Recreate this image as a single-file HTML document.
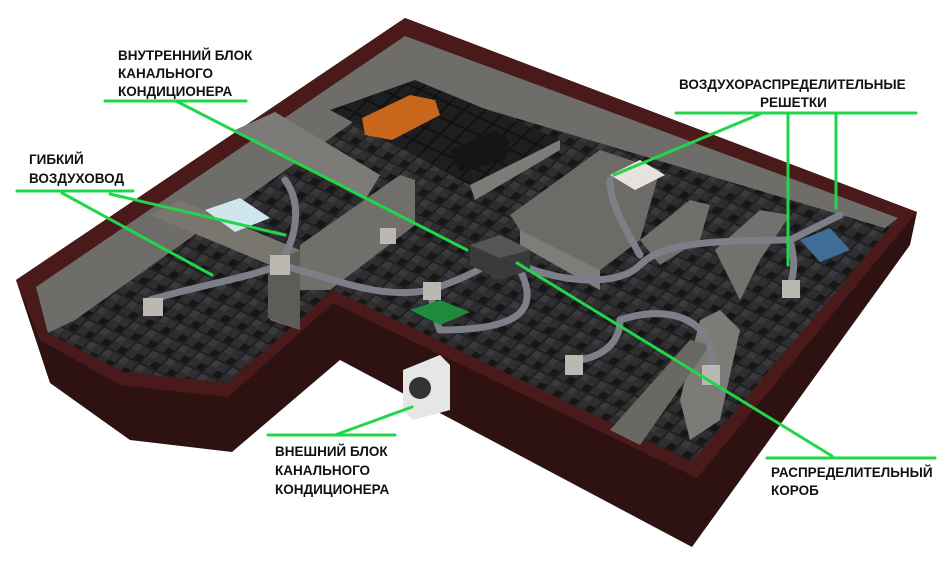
<!DOCTYPE html>
<html><head><meta charset="utf-8"><style>
html,body{margin:0;padding:0;background:#fff;}
svg{display:block}
text{font-family:"Liberation Sans","DejaVu Sans",sans-serif;font-weight:bold;font-size:13.5px;fill:#111;}
</style></head><body>
<svg width="950" height="569" viewBox="0 0 950 569" xmlns="http://www.w3.org/2000/svg">
<defs>
<pattern id="tile" width="18" height="18" patternUnits="userSpaceOnUse" patternTransform="rotate(25) skewX(-20)">
<rect width="18" height="18" fill="#202022"/>
<rect x="1" y="1" width="16" height="16" fill="#2e2e30"/>
<rect x="10" y="10" width="7" height="7" fill="#161618"/>
<rect x="1" y="1" width="7" height="7" fill="#3a3a3c"/>
</pattern>
<pattern id="tile2" width="16" height="16" patternUnits="userSpaceOnUse" patternTransform="rotate(25) skewX(-20)">
<rect width="16" height="16" fill="#111"/>
<rect x="1" y="1" width="14" height="14" fill="#1e1e20"/>
</pattern>
</defs>
<polygon points="16,280 405,18 917,212 910,245 692,547 340,360 232,452 130,440 50,383" fill="#2e1212"/>
<polygon points="16,280 40,340 120,385 228,397 333,303 697,478 917,212 405,18" fill="#4a1a1a"/>
<polygon points="36,287 405,36 898,218 692,462 333,290 228,383 123,372 48,333" fill="url(#tile)"/>
<polygon points="36,287 405,36 898,218 885,228 405,85 75,320 48,333" fill="#6f6d6a"/>
<polygon points="330,110 415,80 560,140 470,185" fill="url(#tile2)"/>
<polygon points="235,130 275,112 380,175 365,200 300,165" fill="#7d7b77"/>
<polygon points="150,215 180,200 300,250 300,330 270,320 270,265" fill="#78766f"/>
<polygon points="268,265 300,250 300,330 268,318" fill="#5e5c59"/>
<polygon points="300,245 400,175 415,180 415,225 330,290 300,290" fill="#716f6b"/>
<polygon points="470,185 560,140 560,150 475,200" fill="#7d7b77"/>
<polygon points="510,215 600,150 660,170 640,240 600,270 520,230" fill="#6d6b67"/>
<polygon points="520,230 600,270 600,290 520,245" fill="#7f7d79"/>
<polygon points="640,240 690,200 710,205 700,240 660,265" fill="#716f6b"/>
<polygon points="715,250 760,210 790,215 760,260 740,300" fill="#73716d"/>
<polygon points="700,320 720,310 740,330 720,420 690,440 680,400" fill="#7d7b77"/>
<polygon points="610,430 690,340 710,345 640,445" fill="#6a6863"/>
<g fill="none" stroke="#7d7f88" stroke-width="7" stroke-linecap="round">
<path d="M150,300 C200,285 240,280 280,265"/>
<path d="M280,265 C300,230 300,200 285,180"/>
<path d="M280,265 C340,280 380,300 430,290"/>
<path d="M430,290 C460,280 480,270 495,260"/>
<path d="M520,265 C570,285 620,285 640,265 C660,245 700,240 790,240"/>
<path d="M640,255 C620,220 610,200 610,180"/>
<path d="M520,270 C540,310 520,330 440,330"/>
<path d="M430,290 C435,320 440,330 440,330"/>
<path d="M620,320 C680,300 720,330 710,370"/>
<path d="M620,320 C620,350 590,360 575,360"/>
<path d="M790,240 C810,230 830,220 840,215"/>
<path d="M790,240 C795,260 795,270 790,285"/>
</g>
<polygon points="470,245 500,235 530,250 530,270 500,280 470,265" fill="#3a3a3a"/>
<polygon points="470,245 500,235 530,250 500,258" fill="#555"/>
<rect x="143" y="298" width="20" height="18" fill="#bbb8b2"/>
<rect x="270" y="255" width="20" height="20" fill="#bbb8b2"/>
<rect x="423" y="282" width="18" height="18" fill="#bbb8b2"/>
<rect x="565" y="355" width="18" height="20" fill="#bbb8b2"/>
<rect x="702" y="365" width="18" height="20" fill="#bbb8b2"/>
<rect x="782" y="280" width="18" height="18" fill="#bbb8b2"/>
<rect x="380" y="228" width="16" height="16" fill="#bbb8b2"/>
<polygon points="362,118 410,95 435,100 440,115 392,140 365,135" fill="#c8661c"/>
<polygon points="450,150 495,130 510,140 505,160 460,172" fill="#151515"/>
<polygon points="410,310 440,300 470,312 440,325" fill="#1e8a3c"/>
<polygon points="610,175 640,160 665,175 635,190" fill="#e6e2dc"/>
<polygon points="800,240 830,228 850,250 820,262" fill="#3f6d96"/>
<polygon points="205,210 240,198 270,218 235,232" fill="#cfe6ee"/>
<polygon points="403,370 440,355 450,365 450,410 413,420 403,410" fill="#e6e6e6"/>
<circle cx="420" cy="388" r="11" fill="#333"/>
<g stroke="#22d64a" stroke-width="3" fill="none" stroke-linecap="round">
<line x1="105" y1="101" x2="246" y2="101"/>
<line x1="176" y1="101" x2="467" y2="250"/>
<line x1="17" y1="191" x2="133" y2="191"/>
<line x1="62" y1="193" x2="212" y2="275"/>
<line x1="110" y1="194" x2="285" y2="235"/>
<line x1="676" y1="113" x2="916" y2="113"/>
<line x1="760" y1="114" x2="614" y2="175"/>
<line x1="788" y1="114" x2="788" y2="265"/>
<line x1="836" y1="114" x2="836" y2="208"/>
<line x1="268" y1="435" x2="395" y2="435"/>
<line x1="335" y1="435" x2="412" y2="407"/>
<line x1="767" y1="458" x2="935" y2="458"/>
<line x1="517" y1="263" x2="832" y2="456"/>
</g>
<text x="118" y="60">ВНУТРЕННИЙ БЛОК</text>
<text x="118" y="78">КАНАЛЬНОГО</text>
<text x="118" y="96">КОНДИЦИОНЕРА</text>
<text x="29" y="164">ГИБКИЙ</text>
<text x="29" y="183">ВОЗДУХОВОД</text>
<text x="679" y="89">ВОЗДУХОРАСПРЕДЕЛИТЕЛЬНЫЕ</text>
<text x="760" y="107">РЕШЕТКИ</text>
<text x="275" y="456">ВНЕШНИЙ БЛОК</text>
<text x="275" y="475">КАНАЛЬНОГО</text>
<text x="275" y="494">КОНДИЦИОНЕРА</text>
<text x="771" y="477">РАСПРЕДЕЛИТЕЛЬНЫЙ</text>
<text x="771" y="495">КОРОБ</text>
</svg>
</body></html>
